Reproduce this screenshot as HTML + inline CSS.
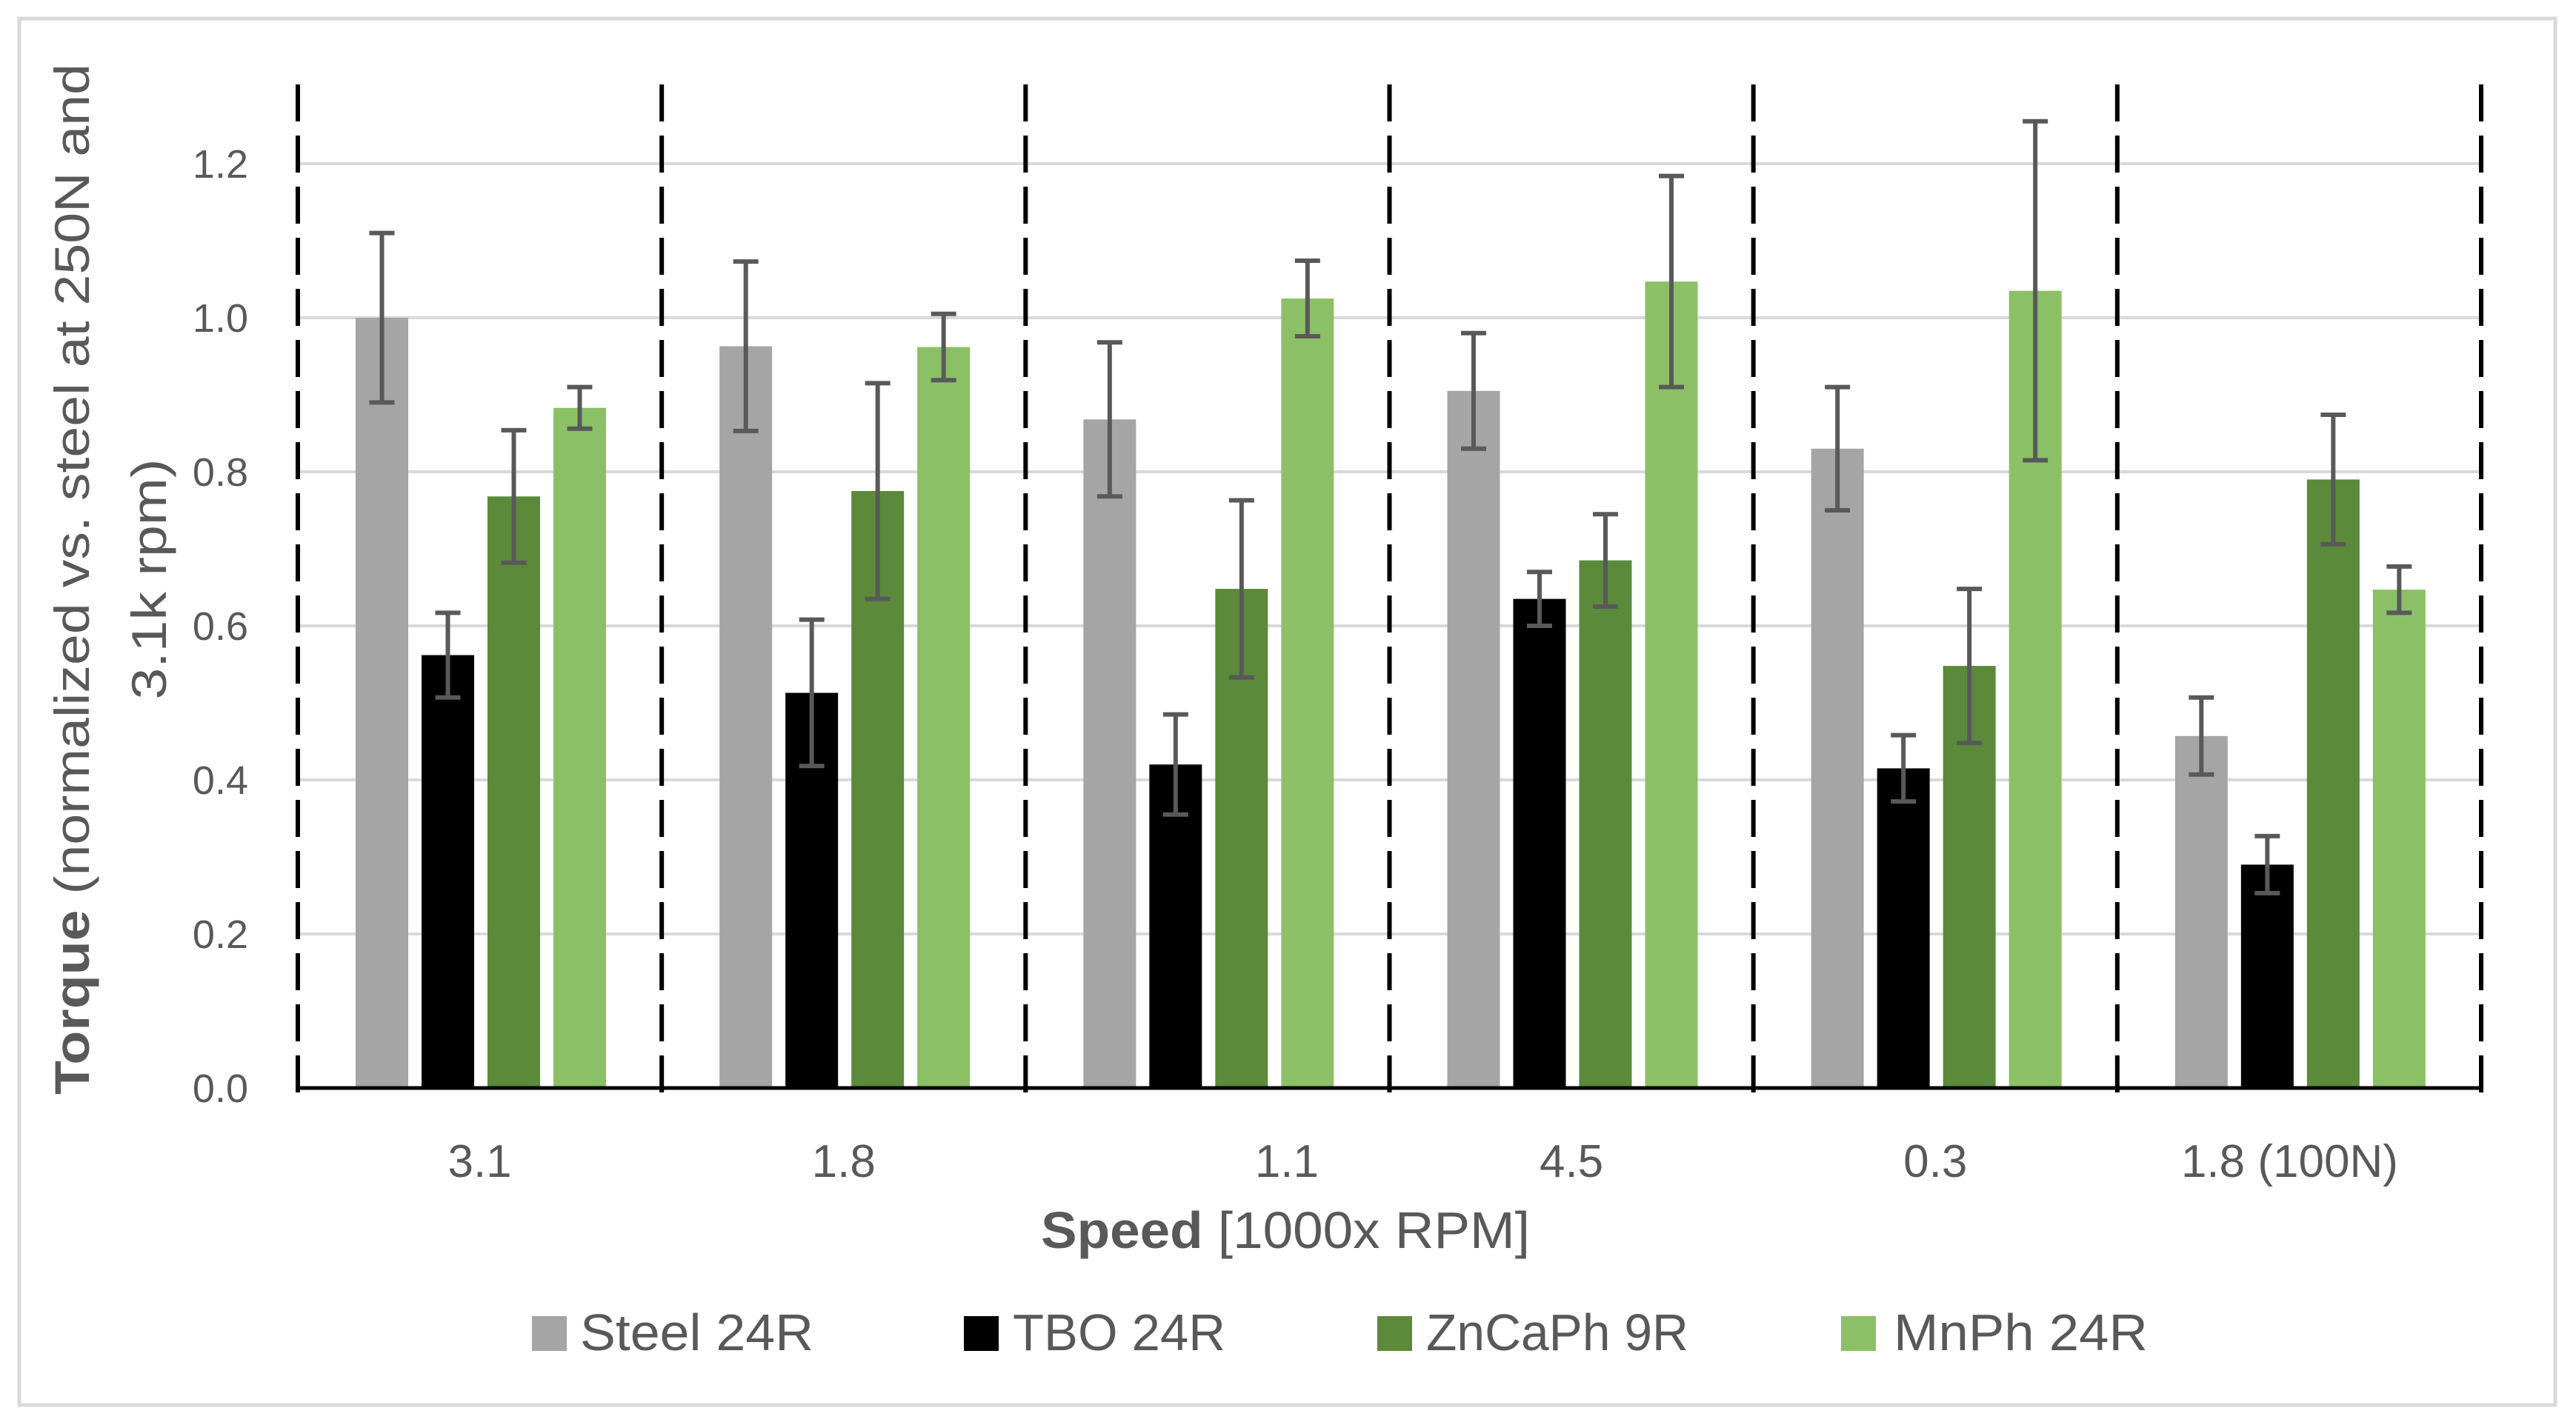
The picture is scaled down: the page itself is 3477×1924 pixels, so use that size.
<!DOCTYPE html>
<html><head><meta charset="utf-8"><style>
html,body{margin:0;padding:0;background:#fff;}
svg{display:block;}
text{font-family:"Liberation Sans",sans-serif;fill:#595959;}
</style></head><body>
<svg id="chart" width="3477" height="1924" viewBox="0 0 3477 1924" xmlns="http://www.w3.org/2000/svg">
<rect x="26" y="25" width="3423" height="1872" fill="#fff" stroke="#d9d9d9" stroke-width="5"/>
<g id="grid"></g>
<g id="bars"></g>
<g id="axes"></g>
<g id="labels"></g>
<text transform="translate(120,782) rotate(-90)" text-anchor="middle" font-size="66" textLength="1392" lengthAdjust="spacingAndGlyphs"><tspan font-weight="bold">Torque</tspan> (normalized vs. steel at 250N and</text>
<text transform="translate(224,782) rotate(-90)" text-anchor="middle" font-size="66" textLength="325" lengthAdjust="spacingAndGlyphs">3.1k rpm)</text>
<text x="1405" y="1685" font-size="70" textLength="660" lengthAdjust="spacingAndGlyphs"><tspan font-weight="bold">Speed</tspan> [1000x RPM]</text>
<g id="legend"></g>
</svg>
<script>
const categories = ["3.1","1.8","1.1","4.5","0.3","1.8 (100N)"];
const seriesNames = ["Steel 24R","TBO 24R","ZnCaPh 9R","MnPh 24R"];
const steel = [1.0,0.963,0.868,0.905,0.83,0.457];
const tbo = [0.562,0.513,0.42,0.635,0.415,0.29];
const zncaph = [0.768,0.775,0.648,0.685,0.548,0.79];
const mnph = [0.883,0.962,1.025,1.047,1.035,0.647];
const steelErr = [0.11,0.11,0.1,0.075,0.08,0.05];
const tboErr = [0.055,0.095,0.065,0.035,0.043,0.037];
const zncaphErr = [0.086,0.14,0.115,0.06,0.1,0.084];
const mnphErr = [0.027,0.043,0.049,0.137,0.22,0.03];
const yTicks = ["0.0","0.2","0.4","0.6","0.8","1.0","1.2"];
const labelShift = [0,0,107,0,0,-13];

const NS="http://www.w3.org/2000/svg";
const X0=402, X1=3349, Y0=1469, PX_PER_UNIT=1040;
const groupW=(X1-X0)/categories.length;
const colors=["#a5a5a5","#000000","#5b8a3a","#8cc067"];
const values=[steel,tbo,zncaph,mnph];
const errs=[steelErr,tboErr,zncaphErr,mnphErr];
function y(v){return Y0-v*PX_PER_UNIT;}
function gx(i){return X0+i*groupW;}
function mk(tag,attrs,parent){const e=document.createElementNS(NS,tag);for(const k in attrs)e.setAttribute(k,attrs[k]);parent.appendChild(e);return e;}
const grid=document.getElementById('grid'),bars=document.getElementById('bars'),axes=document.getElementById('axes'),labels=document.getElementById('labels'),legend=document.getElementById('legend');

yTicks.forEach((t)=>{
  const v=parseFloat(t);
  if(v>0){const l=mk('line',{x1:X0,x2:X1,y1:y(v),y2:y(v),stroke:'#d9d9d9','stroke-width':4},grid);
  
  }
  const tx=mk('text',{x:335,y:y(v)+19,'text-anchor':'end','font-size':54},labels);
  tx.textContent=t;
  
  
});

const barW=71, step=89, off=78;
categories.forEach((c,i)=>{
  values.forEach((arr,s)=>{
    const bx=gx(i)+off+s*step, v=arr[i];
    const r=mk('rect',{x:bx,y:y(v),width:barW,height:Y0-y(v),fill:colors[s]},bars);
    
    
    const e=errs[s][i], cx=bx+barW/2;
    const g=mk('g',{stroke:'#595959','stroke-width':6,fill:'none'},bars);
    
    
    mk('line',{x1:cx,x2:cx,y1:y(v+e),y2:y(v-e)},g);
    mk('line',{x1:cx-17,x2:cx+17,y1:y(v+e),y2:y(v+e)},g);
    mk('line',{x1:cx-17,x2:cx+17,y1:y(v-e),y2:y(v-e)},g);
  });
  const tx=mk('text',{x:gx(i)+groupW/2+labelShift[i],y:1589,'text-anchor':'middle','font-size':62},labels);
  tx.textContent=c;
  
  
});

for(let i=0;i<=categories.length;i++){
  const d=mk('line',{x1:gx(i),x2:gx(i),y1:114,y2:1493,stroke:'#000','stroke-width':6,'stroke-dasharray':'50 19'},axes);
  
  
}
const base=mk('line',{x1:X0-3,x2:X1+3,y1:Y0,y2:Y0,stroke:'#000','stroke-width':5},axes);



const legX=[718,1301,1859,2485], legTX=[783,1367,1925,2556], legW=[315,287,354,343];
seriesNames.forEach((n,s)=>{
  const g=mk('g',{},legend);
  
  
  mk('rect',{x:legX[s],y:1777,width:47,height:47,fill:colors[s]},g);
  const t=mk('text',{x:legTX[s],y:1823,'font-size':70,textLength:legW[s],lengthAdjust:'spacingAndGlyphs'},g);
  t.textContent=n;
});
</script>
</body></html>
